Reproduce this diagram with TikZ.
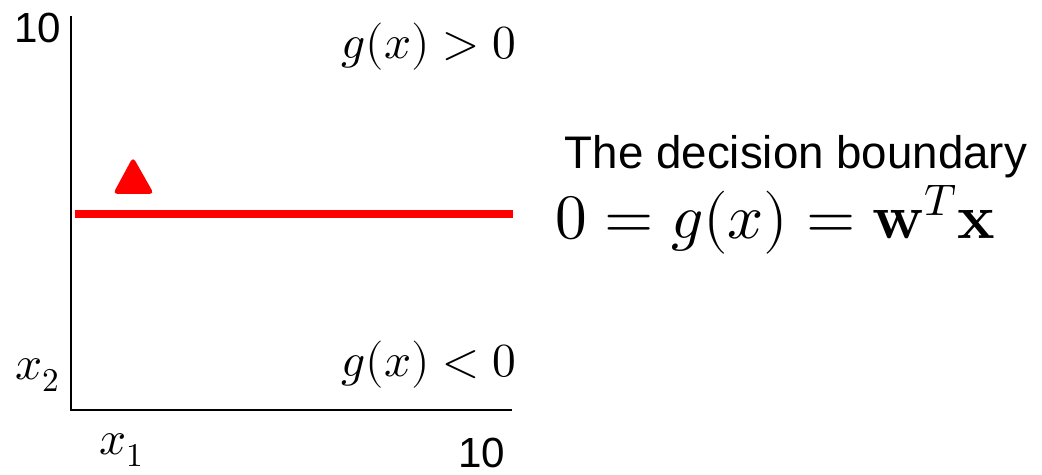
\documentclass[tikz,border=0pt]{standalone}
\usepackage{amsmath}
\usepackage{unicode-math}
\setmathfont{Latin Modern Math}
\setsansfont{Liberation Sans}
\usetikzlibrary{positioning}

\begin{document}
\begin{tikzpicture}[x=0.02cm,y=0.02cm,
  axis/.style={black, line width=1pt},
  bound/.style={red, line width=4pt},
  num/.style={font=\sffamily\fontsize{24}{28}\selectfont, inner sep=0pt},
  lbl/.style={font=\fontsize{27}{32}\selectfont, inner sep=0pt}]
  \useasboundingbox (0,0) rectangle (1042,475);
  \coordinate (o) at (71,65);
  \coordinate (ytop) at (71,459);
  \coordinate (xend) at (512,65);
  \draw [axis] (ytop) -- (o) -- (xend);
  % decision boundary and sample
  \draw [bound] (75,261) -- (513,261);
  \fill [red, rounded corners=2.5pt] (133,318) -- (154,281) -- (113,281) -- cycle;
  \node [num] (ymax) at (38,447) {10};
  \node [num] (xmax) at (482,22) {10};
  \node [lbl] (x2) at (38,100) {$x_2$};
  \node [lbl] (x1) at (122,25) {$x_1$};
  \node [lbl, anchor=east] (pos) at (517,428) {$g(x) > 0$};
  \node [lbl, anchor=east] (neg) at (517,110) {$g(x) < 0$};
  \node [font=\sffamily\fontsize{26}{30}\selectfont, inner sep=0pt] (title) at (796,318) {The decision boundary};
  \node [font=\fontsize{36}{40}\selectfont, inner sep=0pt, anchor=west] (eq) at (555,255) {$0 = g(x) = \mathbf{w}^T\mathbf{x}$};
\end{tikzpicture}
\end{document}
